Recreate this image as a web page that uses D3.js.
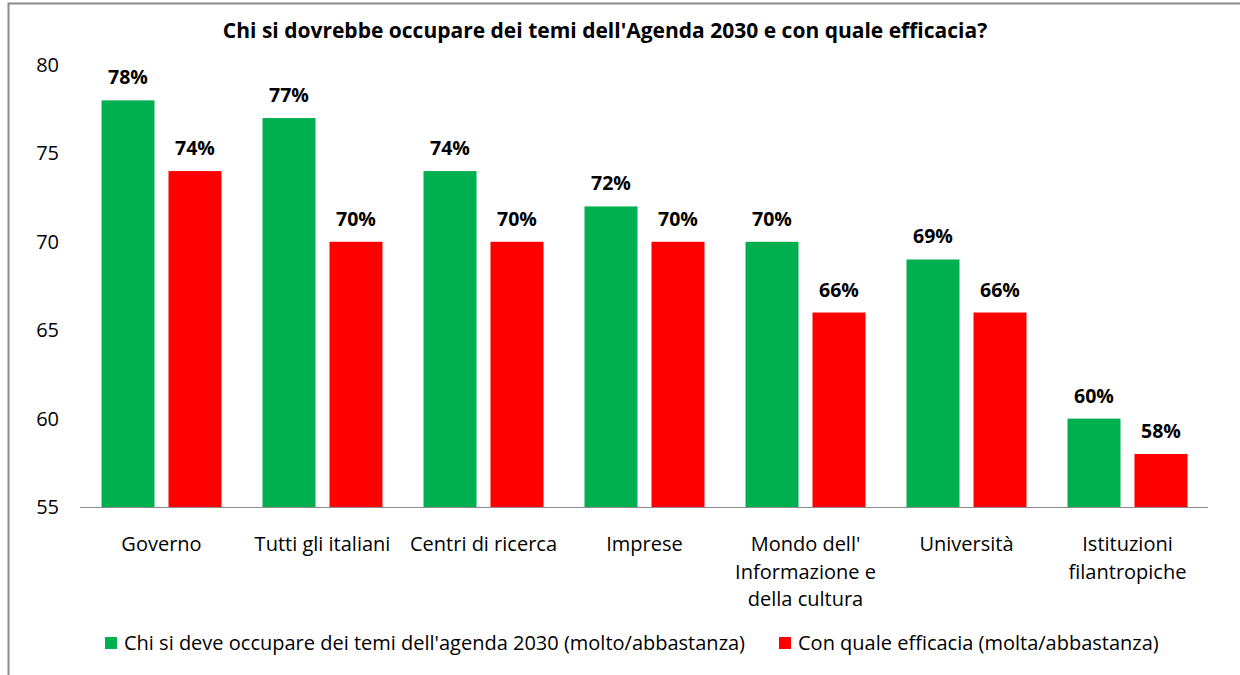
<!DOCTYPE html>
<html><head><meta charset="utf-8">
<script src="https://cdn.jsdelivr.net/npm/d3@7"></script>
<style>body{margin:0;background:#fff}svg{display:block}text{font-family:"Open Sans",Lato,sans-serif}</style>
</head><body>
<svg id="c" width="1240" height="675"></svg>
<script>
const title = "Chi si dovrebbe occupare dei temi dell'Agenda 2030 e con quale efficacia?";
const categories = ["Governo","Tutti gli italiani","Centri di ricerca","Imprese","Mondo dell' Informazione e della cultura","Università","Istituzioni filantropiche"];
const categoryLines = [["Governo"],["Tutti gli italiani"],["Centri di ricerca"],["Imprese"],["Mondo dell'","Informazione e","della cultura"],["Università"],["Istituzioni","filantropiche"]];
const seriesNames = ["Chi si deve occupare dei temi dell'agenda 2030 (molto/abbastanza)","Con quale efficacia (molta/abbastanza)"];
const chiValues = [78,77,74,72,70,69,60];
const efficaciaValues = [74,70,70,70,66,66,58];
const yTicks = [55,60,65,70,75,80];
const colors = ["#00b050","#ff0000"];

const FS = 20;
const svg = d3.select("#c");
// frame
svg.append("rect").attr("x",8.5).attr("y",3.5).attr("width",1240).attr("height",680)
  .attr("fill","none").attr("stroke","#8c8c8c").attr("stroke-width",2);

svg.append("text").attr("x",605).attr("y",38).attr("text-anchor","middle")
  .attr("font-size",21).attr("font-weight","bold").attr("fill","#000").text(title);

const x0 = d3.scaleBand().domain(categories).range([81,1208]).paddingInner(0).paddingOuter(0);
const bw = x0.bandwidth();
const barW = 53, gap = 14;
const y = d3.scaleLinear().domain([55,80]).range([507,65]);

const series = [chiValues, efficaciaValues];
series.forEach((vals,si)=>{
  const g = svg.append("g");
  categories.forEach((c,i)=>{
    const cx = x0(c)+bw/2;
    const xl = si===0 ? cx - gap/2 - barW : cx + gap/2;
    g.append("rect").attr("x",xl).attr("y",y(vals[i])).attr("width",barW)
      .attr("height",y(55)-y(vals[i])).attr("fill",colors[si]);
    g.append("text").attr("x",xl+barW/2).attr("y",y(vals[i])-16).attr("text-anchor","middle")
      .attr("font-size",19.5).attr("font-weight","bold").attr("fill","#000").text(vals[i]+"%");
  });
});

// y axis labels
const ya = svg.append("g").attr("transform","translate(59,0)")
  .call(d3.axisLeft(y).tickValues(yTicks).tickSize(0).tickPadding(0));
ya.select(".domain").remove();
ya.selectAll("text").attr("font-size",FS).attr("fill","#000").attr("font-family","'Open Sans',Lato,sans-serif");

// baseline
svg.append("line").attr("x1",80).attr("x2",1208).attr("y1",507.5).attr("y2",507.5)
  .attr("stroke","#8c8c8c").attr("stroke-width",1);

// x labels
categories.forEach((c,i)=>{
  const t = svg.append("text").attr("x",x0(c)+bw/2).attr("y",551).attr("text-anchor","middle")
    .attr("font-size",FS).attr("fill","#000");
  categoryLines[i].forEach((ln,j)=>{
    t.append("tspan").attr("x",x0(c)+bw/2).attr("dy",j===0?0:27.5).text(ln);
  });
});

// legend
const leg = [{x:105,tx:124},{x:779,tx:798}];
seriesNames.forEach((s,i)=>{
  svg.append("rect").attr("x",leg[i].x).attr("y",637).attr("width",12).attr("height",12).attr("fill",colors[i]);
  svg.append("text").attr("x",leg[i].tx).attr("y",650).attr("font-size",FS).attr("fill","#000").text(s);
});
</script>
</body></html>
